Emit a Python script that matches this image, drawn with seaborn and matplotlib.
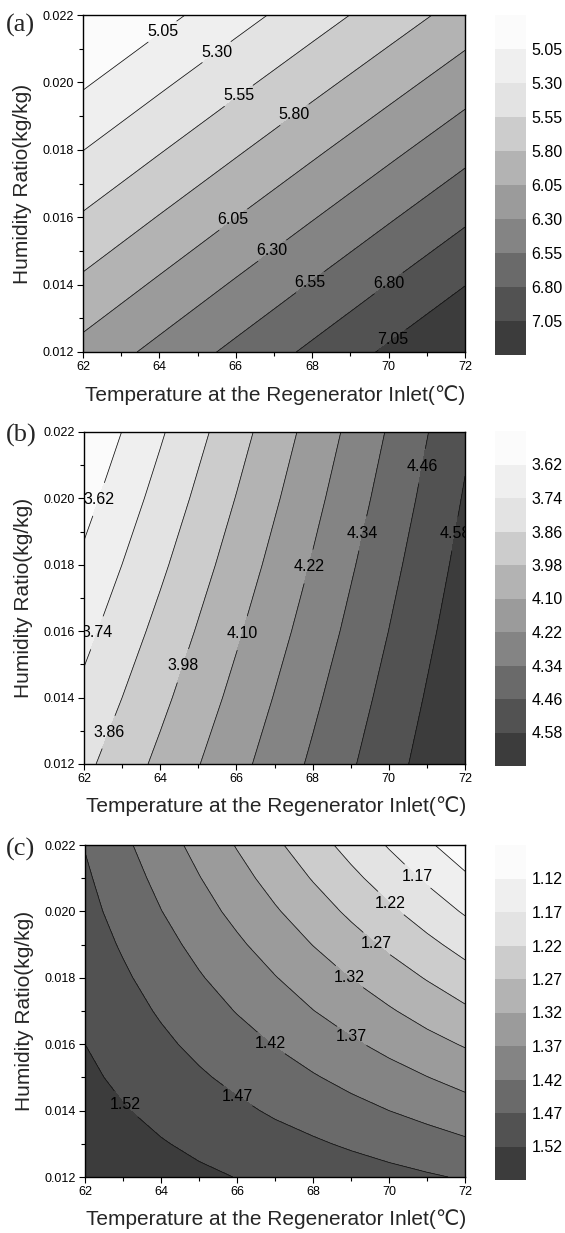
import matplotlib
matplotlib.use("Agg")
import matplotlib.pyplot as plt
from matplotlib.ticker import MultipleLocator, FormatStrFormatter
import numpy as np
import seaborn as sns

sns.set_theme(style="ticks")
plt.rcParams['font.family'] = ['Liberation Sans', 'DejaVu Sans']
plt.rcParams['axes.edgecolor'] = 'black'
plt.rcParams['xtick.color'] = 'black'
plt.rcParams['ytick.color'] = 'black'

# ---------------- data ----------------
temp_ab = [62, 64, 66, 68, 70, 72]
hum_ab = [0.012, 0.014, 0.016, 0.018, 0.020, 0.022]

# rows = humidity ratio, columns = temperature
values_a = [
    [6.130, 6.370, 6.610, 6.850, 7.090, 7.330],
    [5.852, 6.090, 6.329, 6.567, 6.806, 7.044],
    [5.574, 5.811, 6.048, 6.284, 6.521, 6.758],
    [5.296, 5.531, 5.766, 6.002, 6.237, 6.472],
    [5.018, 5.252, 5.485, 5.719, 5.952, 6.186],
    [4.740, 4.972, 5.204, 5.436, 5.668, 5.900],
]
levels_a = [5.05, 5.30, 5.55, 5.80, 6.05, 6.30, 6.55, 6.80, 7.05]

values_b = [
    [3.832, 4.008, 4.183, 4.359, 4.534, 4.710],
    [3.769, 3.951, 4.133, 4.316, 4.498, 4.680],
    [3.706, 3.895, 4.084, 4.272, 4.461, 4.650],
    [3.643, 3.838, 4.034, 4.229, 4.425, 4.620],
    [3.580, 3.782, 3.984, 4.186, 4.388, 4.590],
    [3.517, 3.726, 3.934, 4.143, 4.351, 4.560],
]
levels_b = [3.62, 3.74, 3.86, 3.98, 4.10, 4.22, 4.34, 4.46, 4.58]

temp_c = [62, 63, 64, 65, 66, 67, 68, 69, 70, 71, 72]
hum_c = [0.012, 0.013, 0.014, 0.015, 0.016, 0.017, 0.018, 0.019, 0.020, 0.021, 0.022]
values_c = [
    [1.555, 1.546, 1.537, 1.528, 1.519, 1.511, 1.502, 1.493, 1.484, 1.475, 1.466],
    [1.546, 1.535, 1.523, 1.511, 1.499, 1.487, 1.476, 1.464, 1.452, 1.440, 1.428],
    [1.538, 1.523, 1.508, 1.494, 1.479, 1.464, 1.450, 1.435, 1.420, 1.406, 1.391],
    [1.529, 1.511, 1.494, 1.476, 1.459, 1.441, 1.424, 1.406, 1.388, 1.371, 1.353],
    [1.520, 1.500, 1.479, 1.459, 1.438, 1.418, 1.397, 1.377, 1.357, 1.336, 1.316],
    [1.512, 1.488, 1.465, 1.441, 1.418, 1.395, 1.371, 1.348, 1.325, 1.301, 1.278],
    [1.503, 1.477, 1.450, 1.424, 1.398, 1.372, 1.345, 1.319, 1.293, 1.267, 1.240],
    [1.494, 1.465, 1.436, 1.407, 1.378, 1.348, 1.319, 1.290, 1.261, 1.232, 1.203],
    [1.485, 1.453, 1.421, 1.389, 1.357, 1.325, 1.293, 1.261, 1.229, 1.197, 1.165],
    [1.477, 1.442, 1.407, 1.372, 1.337, 1.302, 1.267, 1.232, 1.197, 1.163, 1.128],
    [1.468, 1.430, 1.392, 1.355, 1.317, 1.279, 1.241, 1.203, 1.166, 1.128, 1.090],
]
levels_c = [1.12, 1.17, 1.22, 1.27, 1.32, 1.37, 1.42, 1.47, 1.52]

# label positions (data coords) of the inline contour labels
label_pos_a = [(64.15, 0.0214), (65.46, 0.02096), (66.1, 0.01957), (67.6, 0.01894),
               (65.9, 0.01598), (66.9, 0.01509), (67.94, 0.01408), (69.98, 0.01408),
               (70.1, 0.01236)]
label_pos_b = [(62.36, 0.01998), (62.32, 0.01596), (62.6, 0.01298), (64.54, 0.01498),
               (66.1, 0.01596), (67.83, 0.01797), (69.29, 0.01895), (70.83, 0.02098),
               (71.66, 0.01895)]
label_pos_c = [(70.7, 0.0210), (69.98, 0.02016), (69.6, 0.01893), (68.89, 0.01794),
               (68.98, 0.01618), (66.84, 0.01596), (65.99, 0.01439), (63.0, 0.01412)]

grays = ["#fbfbfb", "#efefef", "#e3e3e3", "#cccccc", "#b3b3b3",
         "#9b9b9b", "#848484", "#6a6a6a", "#525252", "#3c3c3c"]

xlabel = "Temperature at the Regenerator Inlet(\u2103)"
ylabel = "Humidity Ratio(kg/kg)"

W, H = 565, 1233
fig = plt.figure(figsize=(W / 100, H / 100), dpi=100)


def px_axes(left, top, right, bottom):
    return fig.add_axes([left / W, 1 - bottom / H, (right - left) / W, (bottom - top) / H])


def panel(ax_box, cax_box, tag, tag_y, temps, hums, vals, levels, lo, hi, lpos):
    ax = px_axes(*ax_box)
    X, Y = np.meshgrid(np.array(temps), np.array(hums))
    Z = np.array(vals)
    full = [lo] + list(levels) + [hi]
    cs = ax.contourf(X, Y, Z, levels=full, colors=grays)
    cl = ax.contour(X, Y, Z, levels=levels, colors='#111111', linewidths=0.55)
    texts = ax.clabel(cl, levels=levels, manual=lpos, fmt='%.2f', fontsize=11.5,
                      inline=True, inline_spacing=2, colors='black')
    for t in texts:
        t.set_rotation(0)
        t.set_clip_on(True)
    ax.set_xlim(62, 72)
    ax.set_ylim(0.012, 0.022)
    ax.xaxis.set_major_locator(MultipleLocator(2))
    ax.xaxis.set_minor_locator(MultipleLocator(1))
    ax.yaxis.set_major_locator(MultipleLocator(0.002))
    ax.yaxis.set_minor_locator(MultipleLocator(0.001))
    ax.yaxis.set_major_formatter(FormatStrFormatter('%.3f'))
    ax.tick_params(which='both', direction='out', top=False, right=False,
                   labelsize=9, width=0.8, pad=2.5)
    ax.tick_params(which='major', length=4)
    ax.tick_params(which='minor', length=3)
    for s in ax.spines.values():
        s.set_linewidth(1.0)
        s.set_color('black')
    ax.set_xlabel(xlabel, fontsize=15)
    ax.set_ylabel(ylabel, fontsize=15)
    ax.xaxis.set_label_coords(0.503, -0.098)
    ax.yaxis.set_label_coords(-0.134, 0.5)

    cax = px_axes(*cax_box)
    cb = fig.colorbar(cs, cax=cax, spacing='uniform', ticks=levels)
    cb.outline.set_visible(False)
    cax.invert_yaxis()
    cax.tick_params(length=0, labelsize=11.5, pad=4)
    cax.set_yticklabels([f"{v:.2f}" for v in levels])

    fig.text(6 / W, 1 - tag_y / H, tag, fontsize=19, family='Liberation Serif',
             ha='left', va='center')
    return ax


panel((83, 15, 465, 352), (495, 15, 526, 355), "(a)", 25,
      temp_ab, hum_ab, values_a, levels_a, 4.5, 7.6, label_pos_a)
panel((84, 432, 465, 764), (495, 431, 526, 766), "(b)", 435,
      temp_ab, hum_ab, values_b, levels_b, 3.4, 4.8, label_pos_b)
panel((85, 845, 465, 1177), (495, 845, 526, 1180), "(c)", 849,
      temp_c, hum_c, values_c, levels_c, 1.0, 1.6, label_pos_c)

fig.savefig("out.png", dpi=100)
